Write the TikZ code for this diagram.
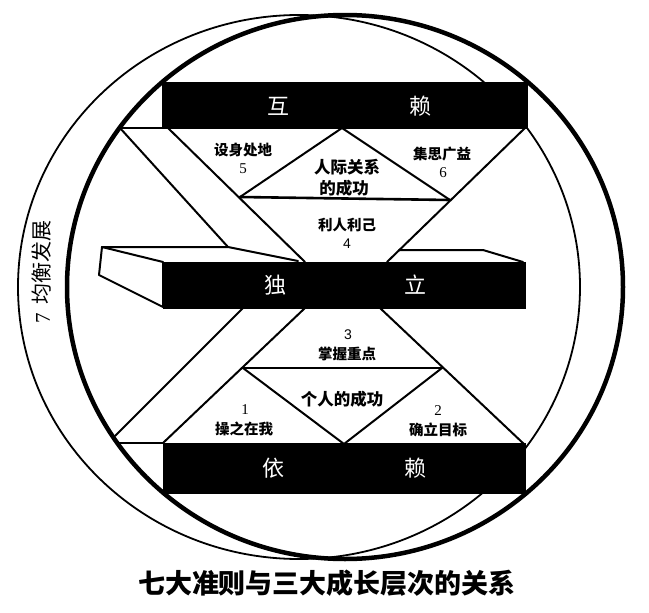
\documentclass[tikz,border=0pt]{standalone}
\usepackage{fontspec}
\newfontfamily\cjk{Noto Sans CJK SC}
\newfontfamily\numserif{Liberation Serif}
\newfontfamily\numsans{Liberation Sans}
\begin{document}
\begin{tikzpicture}[x=1pt,y=-1pt,
  ln/.style={line width=2pt, line join=round, line cap=round},
  sepline/.style={line width=2.6pt, line cap=round},
  barbox/.style={fill=black, draw=black, line width=0.5pt},
  bartext/.style={text=white, font=\cjk\fontsize{22}{24}\selectfont, inner sep=0pt},
  lbl/.style={font=\cjk\bfseries\fontsize{14.5}{17}\selectfont, inner sep=0pt},
  biglbl/.style={font=\cjk\bfseries\fontsize{16.5}{20}\selectfont, inner sep=0pt},
  nums/.style={font=\numserif\fontsize{15}{17}\selectfont, inner sep=0pt},
  numss/.style={font=\numsans\fontsize{14}{16}\selectfont, inner sep=0pt},
  ]
\useasboundingbox (0,0) rectangle (649,613);
\fill[white] (0,0) rectangle (649,613);

% circles
\draw[line width=1.8pt] (299,287) ellipse [x radius=281pt, y radius=272pt];
\draw[line width=4.5pt] (345,287) ellipse [x radius=278pt, y radius=272pt];

% named points
\coordinate (A1) at (120,128);
\coordinate (A2) at (228,247);
\coordinate (B1) at (168,128);
\coordinate (B2) at (305,262);
\coordinate (C1) at (525,128);
\coordinate (C2) at (387,262);
\coordinate (TL) at (240,197);
\coordinate (TA) at (342,128);
\coordinate (TR) at (450,200);
\coordinate (Ap1) at (243,308);
\coordinate (Ap2) at (115,436);
\coordinate (Bp1) at (305,308);
\coordinate (Bp2) at (163,443);
\coordinate (Cap1) at (117,443);
\coordinate (F1) at (380,308);
\coordinate (F2) at (525,445);
\coordinate (BL) at (243,368);
\coordinate (BA) at (344,444);
\coordinate (BR) at (442,368);

% upper part
\draw[ln] (A1) -- (B1);
\draw[ln] (A1) -- (A2);
\draw[ln] (B1) -- (B2);
\draw[ln] (C1) -- (C2);
\draw[ln] (TL) -- (TA) -- (TR);
\draw[sepline] (TL) -- (TR);

% lower part
\draw[ln] (Ap1) -- (Ap2);
\draw[ln] (Bp1) -- (Bp2);
\draw[ln] (Cap1) -- (Bp2);
\draw[ln] (F1) -- (F2);
\draw[ln] (BL) -- (BA) -- (BR);
\draw[sepline] (BL) -- (BR);

% slab (3D block behind the middle bar)
\draw[ln, fill=white] (102,247) -- (163,262) -- (163,307) -- (99,275) -- cycle;
\draw[ln] (102,247) -- (A2) -- (298,261);
\draw[ln] (399,250) -- (483,250) -- (523,262);

% bars
\draw[barbox] (162,82) rectangle (527,128);
\draw[barbox] (163,262) rectangle (525,308);
\draw[barbox] (163,443) rectangle (525,493);

\node[bartext] (hu) at (278,106) {互};
\node[bartext] (lai1) at (420,106) {赖};
\node[bartext] (du) at (275,285) {独};
\node[bartext] (li) at (415,285) {立};
\node[bartext] (yi) at (273,468) {依};
\node[bartext] (lai2) at (415,468) {赖};

% labels
\node[lbl] (l5) at (243,150) {设身处地};
\node[nums] (n5) at (243,169) {5};
\node[biglbl] (rj1) at (347,167) {人际关系};
\node[biglbl] (rj2) at (344,188) {的成功};
\node[lbl] (l6) at (442,154) {集思广益};
\node[nums] (n6) at (443,173) {6};
\node[lbl] (l4) at (347,225) {利人利己};
\node[numss] (n4) at (347,244) {4};
\node[numss] (n3) at (348,335) {3};
\node[lbl] (l3) at (347,354) {掌握重点};
\node[biglbl] (gr) at (342,399) {个人的成功};
\node[nums] (n1) at (245,410) {1};
\node[lbl] (l1) at (244,429) {操之在我};
\node[nums] (n2) at (438,411) {2};
\node[lbl] (l2) at (438,430) {确立目标};

\node[rotate=90, inner sep=0pt, font=\cjk\fontsize{21}{24}\selectfont] (seven) at (42,272) {{\numserif 7}\hspace{0.45em}均衡发展};

\node[inner sep=0pt, font=\cjk\bfseries\fontsize{27}{30}\selectfont] (cap) at (327,583) {七大准则与三大成长层次的关系};
\end{tikzpicture}
\end{document}
